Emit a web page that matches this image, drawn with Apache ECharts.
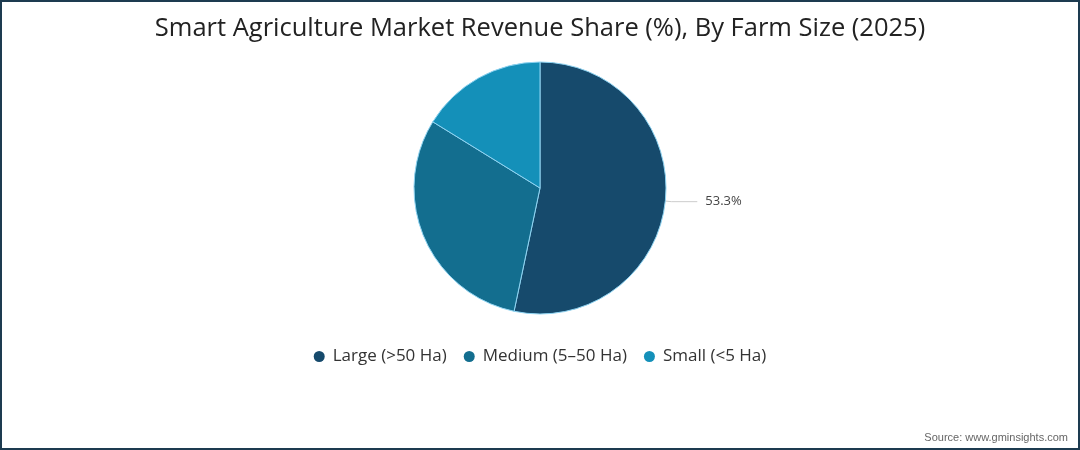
<!DOCTYPE html>
<html>
<head>
<meta charset="utf-8">
<script src="https://cdn.jsdelivr.net/npm/echarts@6/dist/echarts.min.js"></script>
<style>
  html, body { margin: 0; padding: 0; background: #fff; }
  #frame { width: 1080px; height: 450px; box-sizing: border-box; border: 2px solid #1d3b50; background: #fff; }
  #chart { width: 1076px; height: 446px; }
</style>
</head>
<body>
<div id="frame"><div id="chart"></div></div>
<script>
// farm size shares, 2025
const categories = ['Large (>50 Ha)', 'Medium (5–50 Ha)', 'Small (<5 Ha)'];
const shares = [53.3, 30.5, 16.2];
const colors = ['#164a6c', '#136e8f', '#1490b9'];
const labelShown = [true, false, false];

const chart = echarts.init(document.getElementById('chart'), null, { renderer: 'canvas' });

chart.setOption({
  backgroundColor: '#fff',
  animation: false,
  title: {
    text: 'Smart Agriculture Market Revenue Share (%), By Farm Size (2025)',
    left: 'center',
    top: 9,
    textStyle: { fontFamily: 'Open Sans', fontWeight: 'normal', fontSize: 25.5, color: '#222' }
  },
  legend: {
    bottom: 78,
    left: 'center',
    icon: 'circle',
    itemWidth: 11,
    itemHeight: 11,
    itemGap: 17,
    itemStyle: { borderWidth: 0 },
    textStyle: { fontFamily: 'Open Sans', fontSize: 17, color: '#333', padding: [0, 0, 0, 3] },
    data: categories
  },
  graphic: [{
    type: 'text',
    right: 10,
    bottom: 5,
    style: { text: 'Source: www.gminsights.com', font: '11px "Liberation Sans", Arial', fill: '#666' }
  }],
  series: [{
    type: 'pie',
    center: [538, 186],
    radius: 126,
    startAngle: 90,
    clockwise: true,
    itemStyle: { borderColor: '#8fd4f2', borderWidth: 1 },
    label: {
      position: 'outside',
      formatter: '{c}%',
      fontFamily: 'Open Sans',
      fontSize: 13,
      color: '#444',
      distanceToLabelLine: 8
    },
    labelLine: { length: 6, length2: 26, lineStyle: { color: '#ccc', width: 1 } },
    data: categories.map((name, i) => ({
      name,
      value: shares[i],
      itemStyle: { color: colors[i] },
      label: { show: labelShown[i] },
      labelLine: { show: labelShown[i] }
    }))
  }]
});
</script>
</body>
</html>
